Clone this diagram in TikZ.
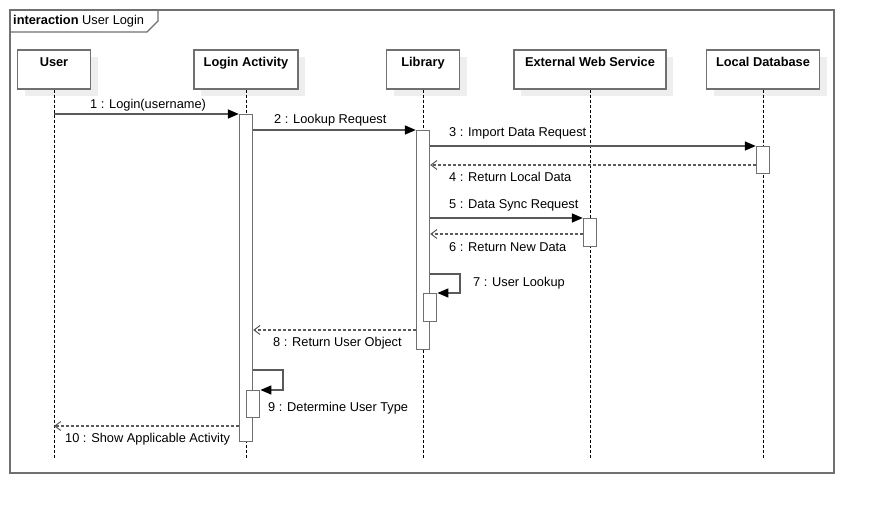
\documentclass[tikz,border=0pt]{standalone}
\usepackage{fontspec}
\setmainfont{Liberation Sans}
\usetikzlibrary{arrows.meta,shadows}
\definecolor{LineClr}{RGB}{112,112,112}
\definecolor{MsgClr}{RGB}{90,90,90}
\definecolor{ShadowClr}{RGB}{238,238,238}

\tikzset{
  lbl/.style={font=\fontsize{12.8}{15}\selectfont,inner sep=0pt},
  head/.style={draw=LineClr,line width=1.4pt,fill=white,minimum height=39pt,
    inner xsep=2pt,inner ysep=7pt,text height=9pt,text depth=16pt,
    font=\fontsize{12.8}{15}\selectfont\bfseries,
    drop shadow={shadow xshift=7pt,shadow yshift=-7pt,fill=ShadowClr,opacity=1}},
  bar/.style={draw=LineClr,line width=1.4pt,fill=white,minimum width=13pt,inner sep=0pt,anchor=north},
  lifeline/.style={black,line width=0.8pt,dash pattern=on 3pt off 2pt},
  call/.style={MsgClr,line width=1.5pt,-{Triangle[length=11pt,width=9pt,fill=black,color=black]}},
  reply/.style={MsgClr,line width=1.3pt,dash pattern=on 3pt off 2pt,-{Straight Barb[length=6pt,width=9pt,line width=1pt]}}
}

\begin{document}
\begin{tikzpicture}[x=1pt,y=-1pt]
\useasboundingbox[fill=white] (0,0) rectangle (874,514);

\draw[LineClr,line width=1.4pt] (10,10) rectangle (834,473);
\draw[LineClr,line width=1.4pt] (10,32) -- (147,32) -- (158,21) -- (158,10);
\node[lbl,anchor=west] (frameTitle) at (13,21.5) {\textbf{interaction} User Login};

\node[head,minimum width=73pt] (user) at (54,69.5) {User};
\node[head,minimum width=104pt] (login) at (246,69.5) {Login Activity};
\node[head,minimum width=73pt] (lib) at (423,69.5) {Library};
\node[head,minimum width=152pt] (ews) at (590,69.5) {External Web Service};
\node[head,minimum width=113pt] (ldb) at (763,69.5) {Local Database};

\foreach \p in {user,login,lib,ews,ldb}
  \draw[lifeline] (\p.south) -- (\p.south |- 0,458);

\node[bar,minimum height=327pt] (loginBar) at (login.south |- 0,114) {};
\node[bar,minimum height=219pt] (libBar) at (lib.south |- 0,130) {};
\node[bar,minimum height=27pt] (ldbBar) at (ldb.south |- 0,146) {};
\node[bar,minimum height=28pt] (ewsBar) at (ews.south |- 0,218) {};
\node[bar,minimum height=28pt] (libBar2) at (libBar.east |- 0,293) {};
\node[bar,minimum height=27pt] (loginBar2) at (loginBar.east |- 0,390) {};

\draw[call] (user.south |- loginBar.north) -- (loginBar.north west);
\draw[call] (loginBar.north east |- libBar.north) -- (libBar.north west);
\draw[call] (libBar.east |- ldbBar.north) -- (ldbBar.north west);
\draw[reply] (ldbBar.west |- 0,165) -- (libBar.east |- 0,165);
\draw[call] (libBar.east |- ewsBar.north) -- (ewsBar.north west);
\draw[reply] (ewsBar.west |- 0,234) -- (libBar.east |- 0,234);
\draw[call] (libBar.east |- 0,274) -- ++(30,0) |- (libBar2.north east);
\draw[reply] (libBar.west |- 0,330) -- (loginBar.east |- 0,330);
\draw[call] (loginBar.east |- 0,370) -- ++(30,0) |- (loginBar2.north east);
\draw[reply] (loginBar.west |- 0,426) -- (user.south |- 0,426);

\node[lbl,anchor=west] (m1) at (90,105) {1 : Login(username)};
\node[lbl,anchor=west] (m2) at (274,120.5) {2 : Lookup Request};
\node[lbl,anchor=west] (m3) at (449,133.5) {3 : Import Data Request};
\node[lbl,anchor=west] (m4) at (449,176.5) {4 : Return Local Data};
\node[lbl,anchor=west] (m5) at (449,205.5) {5 : Data Sync Request};
\node[lbl,anchor=west] (m6) at (449,247.5) {6 : Return New Data};
\node[lbl,anchor=west] (m7) at (473,283.5) {7 : User Lookup};
\node[lbl,anchor=west] (m8) at (273,343.5) {8 : Return User Object};
\node[lbl,anchor=west] (m9) at (268,408.5) {9 : Determine User Type};
\node[lbl,anchor=west] (m10) at (65,439.5) {10 : Show Applicable Activity};

\end{tikzpicture}
\end{document}
